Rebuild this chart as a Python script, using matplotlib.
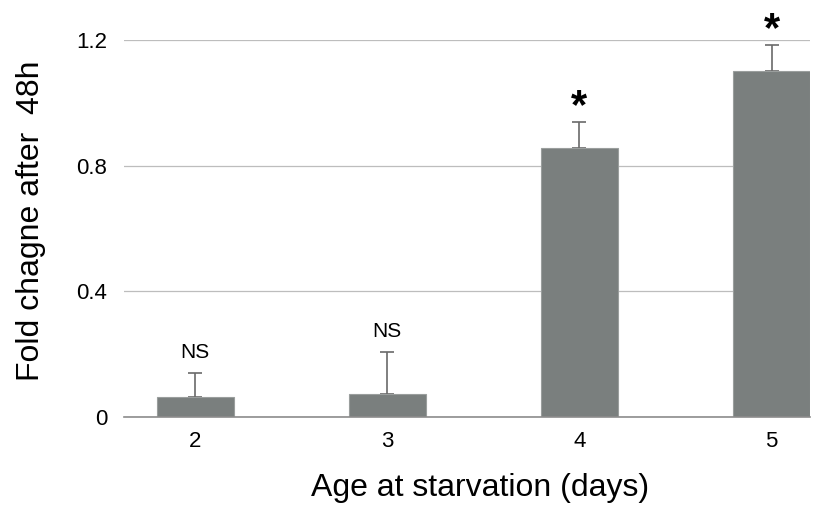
import matplotlib
matplotlib.use("Agg")
import matplotlib.pyplot as plt

plt.rcParams['font.family'] = ['Liberation Sans', 'DejaVu Sans']

# data
ages = ['2', '3', '4', '5']
fold_change = [0.064, 0.073, 0.856, 1.101]
err_upper = [0.076, 0.134, 0.083, 0.083]
marks = ['NS', 'NS', '*', '*']

fig = plt.figure(figsize=(8.29, 5.08), dpi=100)
ax = fig.add_axes([124 / 829, 1 - 417 / 508, (810 - 124) / 829, (417 - 40) / 508])

pos = list(range(len(ages)))
ax.bar(pos, fold_change, width=0.4, color='#7a7f7e', edgecolor='#9a9e9d', linewidth=0.8, zorder=3)
ax.errorbar(pos, fold_change, yerr=[[0] * len(ages), err_upper], fmt='none',
            ecolor='#6a6a6a', elinewidth=1.2, capsize=5, capthick=1.2, zorder=2)

for i, m in enumerate(marks):
    top = fold_change[i] + err_upper[i]
    if m == 'NS':
        ax.text(pos[i], top + 0.035, m, ha='center', va='bottom', fontsize=15)
    else:
        ax.text(pos[i], top - 0.015, m, ha='center', va='bottom', fontsize=30, fontweight='bold')

ax.set_xlim(-0.37, 3.2)
ax.set_ylim(0, 1.2)
ax.set_yticks([0, 0.4, 0.8, 1.2])
ax.set_yticklabels(['0', '0.4', '0.8', '1.2'])
ax.set_xticks(pos)
ax.set_xticklabels(ages)
ax.tick_params(axis='both', length=0, labelsize=16, pad=12)
ax.tick_params(axis='x', pad=10)
ax.yaxis.grid(True, color='#bdbdbd', linewidth=0.9, zorder=0)
ax.set_axisbelow(True)
for s in ['top', 'right', 'left']:
    ax.spines[s].set_visible(False)
ax.spines['bottom'].set_color('#8c8c8c')
ax.spines['bottom'].set_linewidth(1.2)
ax.spines['bottom'].set_zorder(4)

ax.set_ylabel('Fold chagne after  48h', fontsize=23, va='center')
ax.set_xlabel('Age at starvation (days)', fontsize=23, va='center')
ax.xaxis.set_label_coords(0.519, -0.188)
ax.yaxis.set_label_coords(-0.135, 0.52)

fig.savefig('out.png', dpi=100)
